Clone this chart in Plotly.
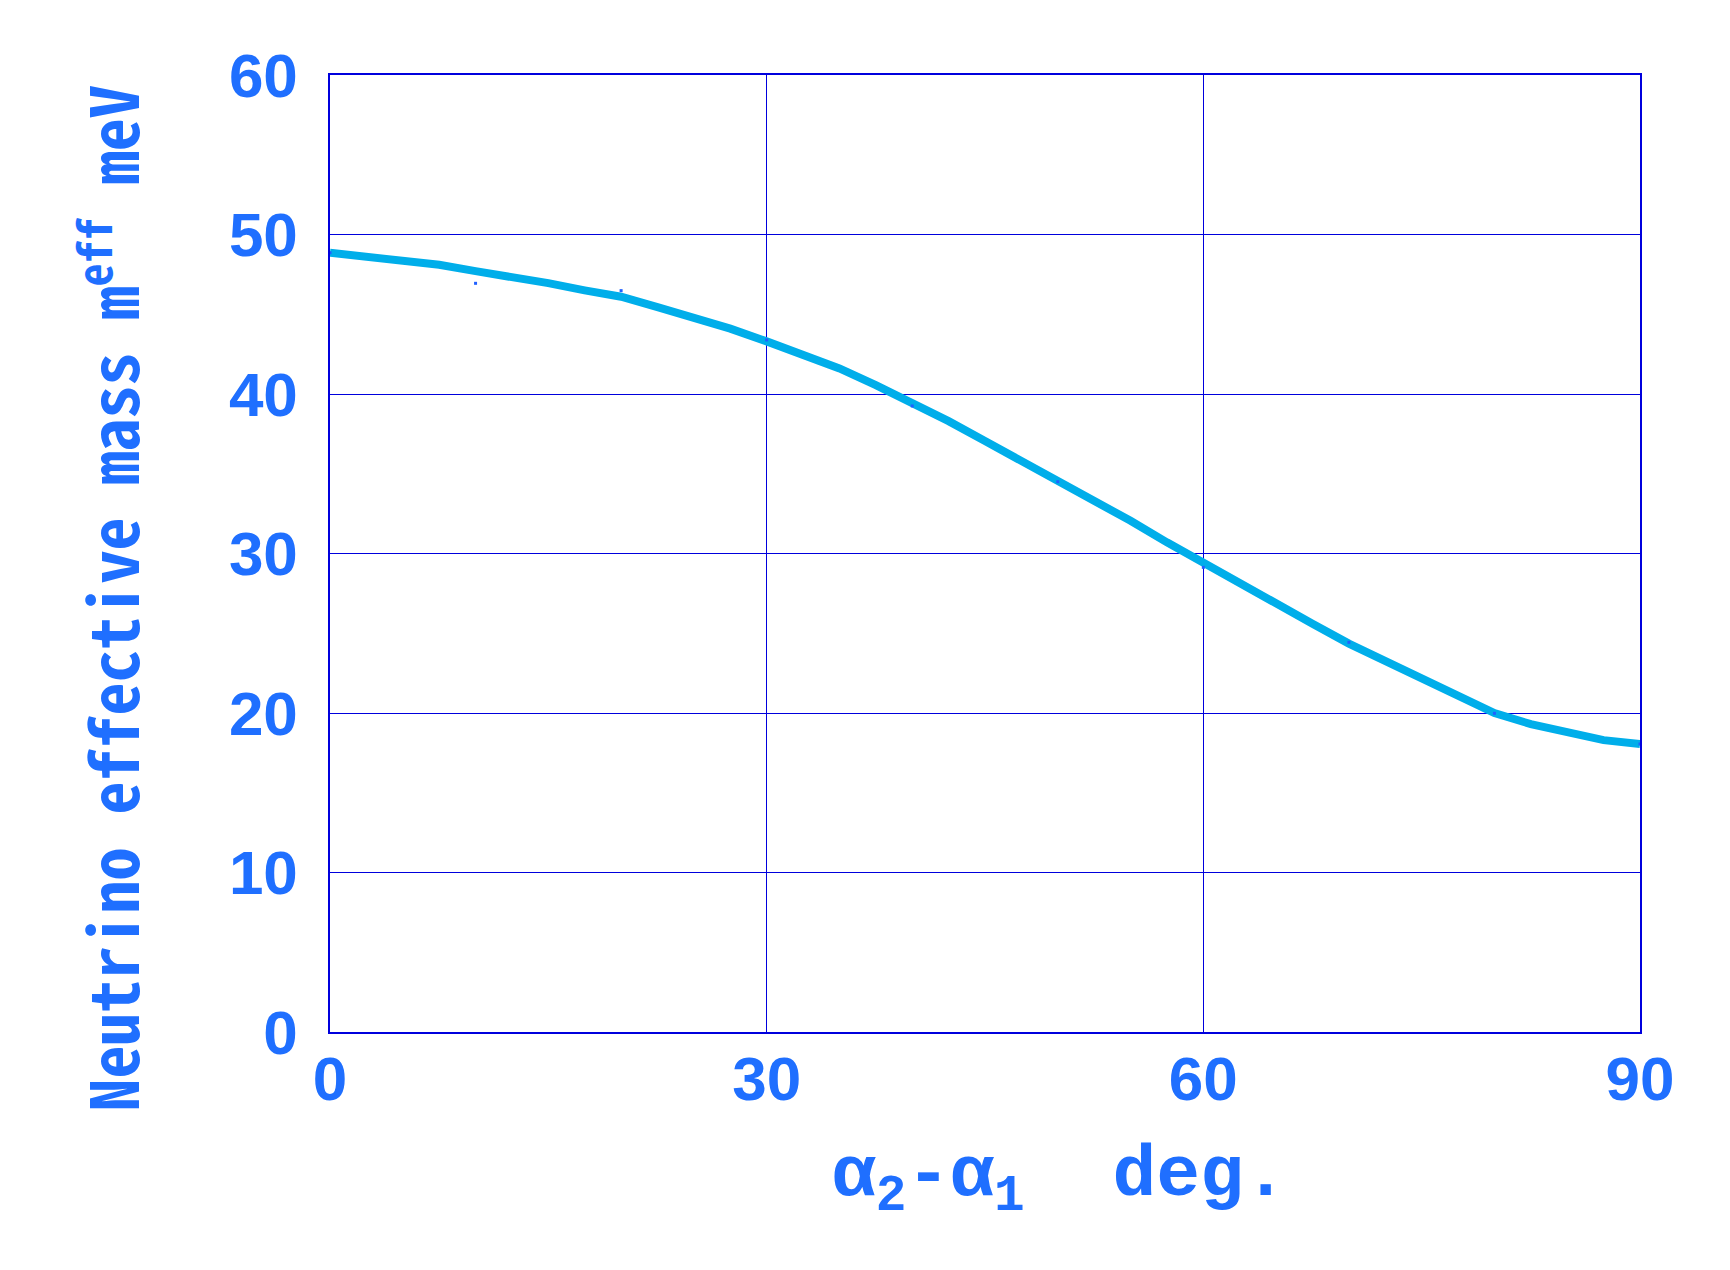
"""Masa efectiva del neutrino frente a la diferencia de fases alpha2 - alpha1."""
import plotly.graph_objects as go

# ── Datos ─────────────────────────────────────────────────────────────────────
ANGULO_CURVA = [0, 2.5, 5, 7.5, 10, 12.5, 15, 17.5, 20, 22.5, 25, 27.5, 30,
                32.5, 35, 37.5, 40, 42.5, 45, 47.5, 50, 52.5, 55, 57.5, 60,
                62.5, 65, 67.5, 70, 72.5, 75, 77.5, 80, 82.5, 85, 87.5, 90]
MASA_CURVA = [48.85, 48.6, 48.3, 48.1, 47.7, 47.35, 46.95, 46.5, 46.1, 45.45,
              44.8, 44.1, 43.3, 42.5, 41.6, 40.55, 39.45, 38.3, 37.05, 35.8,
              34.6, 33.25, 32.05, 30.7, 29.4, 28.1, 26.9, 25.6, 24.35, 23.25,
              22.1, 21.0, 20.0, 19.3, 18.75, 18.3, 18.06]

ANGULO_PUNTOS = [0, 10, 20, 30, 40, 50, 60, 70, 80, 90]
MASA_PUNTOS = [48.86, 46.94, 46.48, 43.39, 39.25, 34.5, 29.13, 24.43, 19.98, 18.06]

X_TICKS = [0, 30, 60, 90]
Y_TICKS = [0, 10, 20, 30, 40, 50, 60]

AZUL_TEXTO = "#1f6fff"
AZUL_REJILLA = "#0000dd"
CIAN = "#00aeea"

fig = go.Figure()
fig.add_trace(go.Scatter(
    x=ANGULO_CURVA, y=MASA_CURVA, mode="lines",
    line=dict(color=CIAN, width=8), showlegend=False,
))
fig.add_trace(go.Scatter(
    x=ANGULO_PUNTOS, y=MASA_PUNTOS, mode="markers",
    marker=dict(color="#2060ff", size=3, symbol="square"), showlegend=False,
))

fuente_ticks = dict(family="Liberation Sans, Arial", size=62, color=AZUL_TEXTO, weight="bold")

fig.update_xaxes(
    range=[0, 90], tickvals=X_TICKS, ticks="", ticklabelstandoff=-8,
    showgrid=True, gridcolor=AZUL_REJILLA, gridwidth=1.3,
    showline=True, linecolor=AZUL_REJILLA, linewidth=1.5, mirror=True,
    zeroline=False, tickfont=fuente_ticks,
)
fig.update_yaxes(
    range=[0, 60], tickvals=Y_TICKS, ticks="", ticklabelstandoff=18,
    showgrid=True, gridcolor=AZUL_REJILLA, gridwidth=1.3,
    showline=True, linecolor=AZUL_REJILLA, linewidth=1.5, mirror=True,
    zeroline=False, tickfont=fuente_ticks,
)

# títulos de ejes como anotaciones para colocarlos igual que el original
fig.add_annotation(
    text="Neutrino effective mass m<sup>eff</sup> meV",
    xref="paper", yref="paper", x=-0.169, y=0.4525,
    xanchor="center", yanchor="middle", textangle=-90, showarrow=False,
    font=dict(family="Noto Sans Mono CJK JP, DejaVu Sans Mono", size=66,
              color=AZUL_TEXTO, weight="bold"),
)
fig.add_annotation(
    text="α<sub>2</sub>-α<sub>1</sub>  deg.",
    xref="paper", yref="paper", x=0.557, y=-0.1544,
    xanchor="center", yanchor="middle", showarrow=False,
    font=dict(family="Liberation Mono, Courier New", size=73,
              color=AZUL_TEXTO, weight="bold"),
)

# la página HTML añade 8 px de margen al body: se compensa aquí
fig.update_layout(
    width=1722, height=1262, autosize=False,
    margin=dict(l=322, r=90, t=67, b=238),
    plot_bgcolor="white", paper_bgcolor="white",
)

fig.write_html("out.html")
